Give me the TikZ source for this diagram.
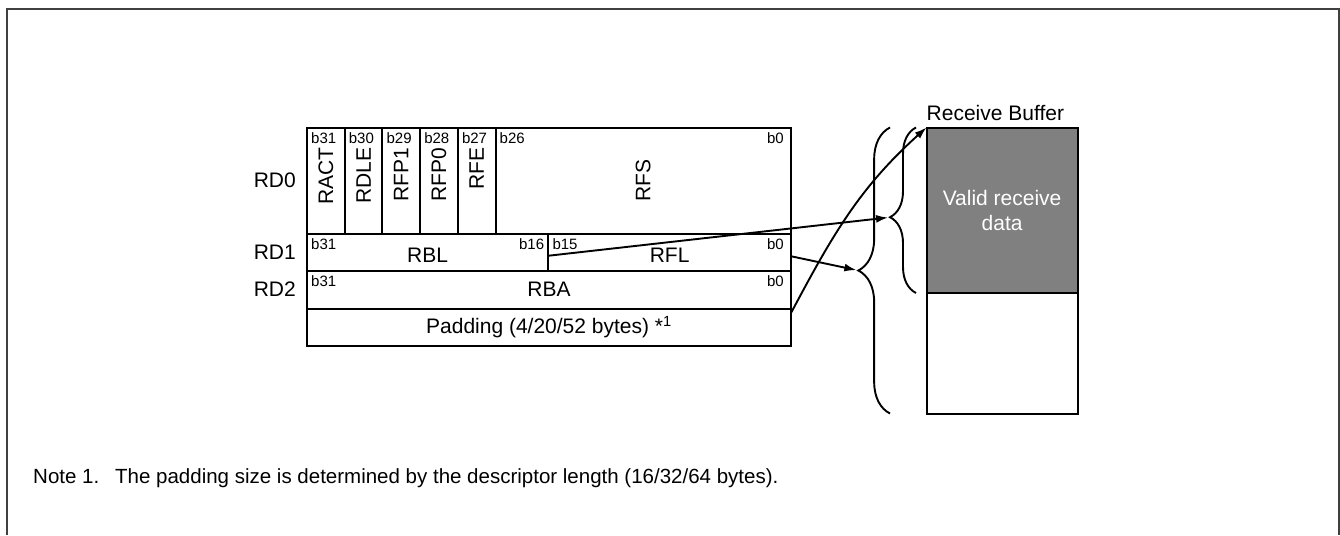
\documentclass[tikz,border=0pt]{standalone}
\usepackage{fontspec}
\setmainfont{Liberation Sans}
\usetikzlibrary{arrows.meta,positioning,decorations.pathreplacing}

\begin{document}
\begin{tikzpicture}[
  x=1pt, y=-1pt,
  font=\fontsize{21}{25}\selectfont,
  >={Latex[length=12pt,width=8pt]},
  cell/.style={draw,line width=2pt,inner sep=0pt,outer sep=0pt,anchor=north west},
  flag/.style={cell,minimum width=37.7pt,minimum height=106pt},
  bitlab/.style={font=\fontsize{15}{18}\selectfont,inner xsep=4pt,inner ysep=4.5pt},
  vlab/.style={rotate=90,anchor=east,inner sep=0pt},
  rdlab/.style={anchor=east,inner sep=0pt},
  notetext/.style={anchor=base west,inner sep=0pt,font=\fontsize{20.5}{24}\selectfont},
  link/.style={->,line width=1.9pt},
  curly/.style={decorate,line width=1.9pt,decoration={brace,amplitude=#1}}
]
\useasboundingbox (0,0) rectangle (1340,535);
\draw[line width=2.2pt,black!75] (7,535) -- (7,9) -- (1339,9) -- (1339,535);

% descriptor words
\node[flag] (ract) at (307,127.5) {};
\node[flag] (rdle) at (ract.north east) {};
\node[flag] (rfpa) at (rdle.north east) {};
\node[flag] (rfpb) at (rfpa.north east) {};
\node[flag] (rfe) at (rfpb.north east) {};
\node[cell,minimum width=295.5pt,minimum height=106pt] (rfs) at (rfe.north east) {};
\node[cell,minimum width=241.3pt,minimum height=37.5pt] (rbl) at (ract.south west) {};
\node[cell,minimum width=242.7pt,minimum height=37.5pt] (rfl) at (rbl.north east) {};
\node[cell,minimum width=484pt,minimum height=37.5pt] (rba) at (rbl.south west) {};
\node[cell,minimum width=484pt,minimum height=37pt] (pad) at (rba.south west) {};

\node[rdlab] at (296,180) {RD0};
\node[rdlab] at (296,252) {RD1};
\node[rdlab] at (296,289) {RD2};

\node[bitlab,anchor=north west] at (ract.north west) {b31};
\node[bitlab,anchor=north west] at (rdle.north west) {b30};
\node[bitlab,anchor=north west] at (rfpa.north west) {b29};
\node[bitlab,anchor=north west] at (rfpb.north west) {b28};
\node[bitlab,anchor=north west] at (rfe.north west) {b27};
\node[bitlab,anchor=north west] at (rfs.north west) {b26};
\node[bitlab,anchor=north east] at ([xshift=-3pt]rfs.north east) {b0};
\node[vlab] at ([yshift=-20pt]ract.north) {RACT};
\node[vlab] at ([yshift=-20pt]rdle.north) {RDLE};
\node[vlab] at ([yshift=-20pt]rfpa.north) {RFP1};
\node[vlab] at ([yshift=-20pt]rfpb.north) {RFP0};
\node[vlab] at ([yshift=-20pt]rfe.north) {RFE};
\node[rotate=90] at (rfs.center) {RFS};

\node[bitlab,anchor=north west] at (rbl.north west) {b31};
\node[bitlab,anchor=north east] at (rbl.north east) {b16};
\node[bitlab,anchor=north west] at (rfl.north west) {b15};
\node[bitlab,anchor=north east] at ([xshift=-3pt]rfl.north east) {b0};
\node at ([yshift=-3.5pt]rbl.center) {RBL};
\node at ([yshift=-3.5pt]rfl.center) {RFL};

\node[bitlab,anchor=north west] at (rba.north west) {b31};
\node[bitlab,anchor=north east] at ([xshift=-3pt]rba.north east) {b0};
\node at (rba.center) {RBA};
\node at (pad.center) {Padding (4/20/52 bytes) *\textsuperscript{1}};

% receive buffer
\node[cell,fill=black!50,minimum width=151.2pt,minimum height=165.2pt] (valid) at (926.5,127.5) {};
\node[align=center,text=white] at (valid.center) {Valid receive\\data};
\node[cell,minimum width=151.2pt,minimum height=120.8pt] (free) at (valid.south west) {};
\node[anchor=base west,inner sep=0pt] at ([yshift=7.5pt]valid.north west) {Receive Buffer};

\draw[curly=31.7pt] (890,413.5) -- (890,127.5);
\draw[curly=26pt,decoration={aspect=0.458}] (916,293) -- (916,127.5);
\coordinate (bigtip) at (858.3,270.5);
\coordinate (smalltip) at (890,217.3);

\draw[link,shorten >=2pt] ([yshift=-3.5pt]rfl.west) -- (smalltip);
\draw[link,shorten >=2pt] ([yshift=-4pt]rfl.east) -- (bigtip);
\draw[link] ([yshift=14pt]pad.east) to[out=62,in=-138] (valid.north west);

\node[notetext] (note) at (33,483) {Note 1.};
\node[notetext] at (115,483) {The padding size is determined by the descriptor length (16/32/64 bytes).};
\end{tikzpicture}
\end{document}
